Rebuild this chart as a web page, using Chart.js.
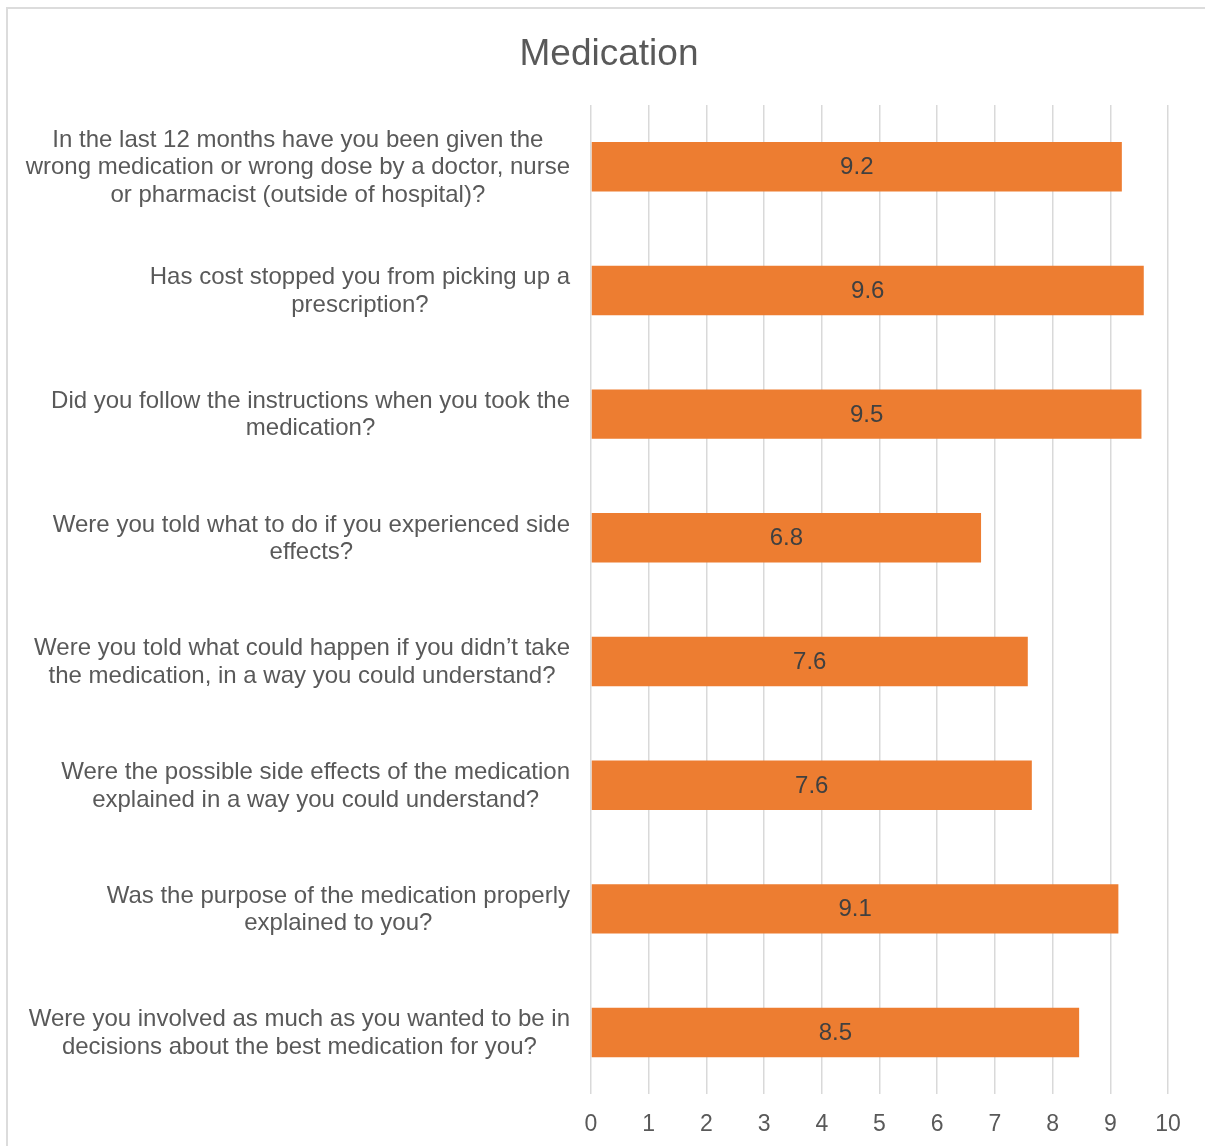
<!DOCTYPE html>
<html lang="en">
<head>
  <meta charset="UTF-8">
  <title>Medication</title>
  <style>
    body {
      margin: 0;
      padding: 0;
      background: #fff;
      overflow: hidden;
    }
    .frame {
      position: absolute;
      left: 6px;
      top: 7px;
      width: 1300px;
      height: 1300px;
      border-left: 2px solid #dcdcdc;
      border-top: 2px solid #dcdcdc;
    }
    .chart-box {
      position: absolute;
      left: 0;
      top: 0;
      width: 1205px;
      height: 1146px;
    }
  </style>
</head>
<body>
  <div class="frame"></div>
  <div class="chart-box">
    <canvas id="medChart"></canvas>
  </div>

  <script src="https://cdn.jsdelivr.net/npm/chart.js"></script>
  <script>
    // questions, one array of lines per bar (top to bottom)
    var questions = [
      ['In the last 12 months have you been given the', 'wrong medication or wrong dose by a doctor, nurse', 'or pharmacist (outside of hospital)?'],
      ['Has cost stopped you from picking up a', 'prescription?'],
      ['Did you follow the instructions when you took the', 'medication?'],
      ['Were you told what to do if you experienced side', 'effects?'],
      ['Were you told what could happen if you didn\u2019t take', 'the medication, in a way you could understand?'],
      ['Were the possible side effects of the medication', 'explained in a way you could understand?'],
      ['Was the purpose of the medication properly', 'explained to you?'],
      ['Were you involved as much as you wanted to be in', 'decisions about the best medication for you?']
    ];
    var scores = [9.2, 9.58, 9.54, 6.76, 7.57, 7.64, 9.14, 8.46];
    var xTicks = [0, 1, 2, 3, 4, 5, 6, 7, 8, 9, 10];

    var fontFamily = '"Liberation Sans", Arial, sans-serif';
    var textGrey = '#595959';

    // category labels: each block right aligned, lines centred inside it
    var questionLabels = {
      id: 'questionLabels',
      afterDraw: function(chart) {
        var ctx = chart.ctx;
        var yScale = chart.scales.y;
        var rightEdge = chart.chartArea.left - 21;
        var lineH = 27.5;
        ctx.save();
        ctx.font = '24px ' + fontFamily;
        ctx.fillStyle = textGrey;
        ctx.textAlign = 'center';
        ctx.textBaseline = 'middle';
        questions.forEach(function(lines, i) {
          var widest = 0;
          lines.forEach(function(l) { widest = Math.max(widest, ctx.measureText(l).width); });
          var cx = rightEdge - widest / 2;
          var cy = yScale.getPixelForTick(i) + 1;
          lines.forEach(function(l, j) {
            ctx.fillText(l, cx, cy + (j - (lines.length - 1) / 2) * lineH);
          });
        });
        ctx.restore();
      }
    };

    // value printed in the middle of each bar
    var barValues = {
      id: 'barValues',
      afterDatasetsDraw: function(chart) {
        var ctx = chart.ctx;
        var meta = chart.getDatasetMeta(0);
        ctx.save();
        ctx.font = '24px ' + fontFamily;
        ctx.fillStyle = '#404040';
        ctx.textAlign = 'center';
        ctx.textBaseline = 'middle';
        meta.data.forEach(function(bar, i) {
          var mid = (bar.x + bar.base) / 2;
          ctx.fillText(scores[i].toFixed(1), mid, bar.y + 1);
        });
        ctx.restore();
      }
    };

    var ctx = document.getElementById('medChart').getContext('2d');
    var medChart = new Chart(ctx, {
      type: 'bar',
      data: {
        labels: questions,
        datasets: [{
          data: scores,
          backgroundColor: '#ED7D31',
          borderWidth: 0,
          barPercentage: 0.4,
          categoryPercentage: 1.0
        }]
      },
      options: {
        indexAxis: 'y',
        responsive: true,
        maintainAspectRatio: false,
        animation: false,
        layout: {
          padding: { left: 50, right: 37, top: 0, bottom: -8 }
        },
        plugins: {
          legend: { display: false },
          tooltip: { enabled: false },
          title: {
            display: true,
            text: 'Medication',
            color: textGrey,
            font: { family: fontFamily, size: 37, weight: 'normal' },
            padding: { top: 32.5, bottom: 28 }
          }
        },
        scales: {
          x: {
            min: 0,
            max: 10,
            afterBuildTicks: function(scale) {
              scale.ticks = xTicks.map(function(v) { return { value: v }; });
            },
            grid: {
              color: '#d9d9d9',
              lineWidth: 1.5,
              drawTicks: false
            },
            border: { display: false },
            ticks: {
              color: textGrey,
              padding: 16,
              font: { family: fontFamily, size: 23 }
            }
          },
          y: {
            grid: { display: false },
            border: { display: false },
            ticks: { display: false },
            afterFit: function(scale) {
              scale.width = 541;
            }
          }
        }
      },
      plugins: [questionLabels, barValues]
    });
  </script>
</body>
</html>
